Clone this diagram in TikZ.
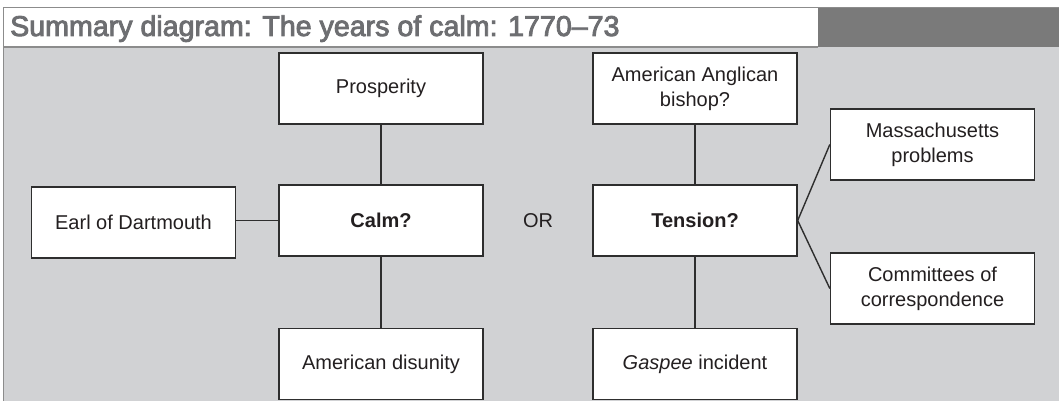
\documentclass[tikz,border=0pt]{standalone}
\usepackage{fontspec}
\setmainfont{Liberation Sans}
\newfontfamily\headfont[FakeBold=3]{Liberation Sans}
\definecolor{panel}{HTML}{D1D2D4}
\definecolor{bargrey}{HTML}{7A7A7A}
\definecolor{titletext}{HTML}{6D6E71}
\definecolor{rim}{HTML}{8C8C8C}
\definecolor{ink}{HTML}{231F20}
\definecolor{boxline}{HTML}{2E2E2E}
\begin{document}
\begin{tikzpicture}[x=1pt, y=-1pt,
  box/.style={draw=boxline, line width=1.4pt, fill=white,
    minimum width=204pt, minimum height=71pt, inner sep=0pt,
    align=center, text=ink, font=\fontsize{20}{25}\selectfont},
  link/.style={draw=boxline, line width=1.4pt},
  plain/.style={text=ink, font=\fontsize{20}{25}\selectfont}]
\useasboundingbox (0,0) rectangle (1059,401);

% background panel and title bar
\fill[panel] (3,47) rectangle (1059,401);
\fill[white] (3,7) rectangle (818,47);
\fill[bargrey] (818,7) rectangle (1059,47);
\draw[rim, line width=1.2pt] (3.6,401) -- (3.6,7.6) -- (1059,7.6);
\draw[rim, line width=1.2pt] (3,47) -- (818,47);
\node[anchor=base west, inner sep=0pt, text=titletext,
  font=\headfont\fontsize{28.6}{30}\selectfont] (title) at (10,36)
  {Summary diagram: The years of calm: 1770–73};

% left cluster
\node[box] (pros) at (381,88.5) {Prosperity};
\node[box] (calm) at (381,220.5) {\textbf{Calm?}};
\node[box] (disunity) at (381,364) {American disunity};
\node[box] (earl) at (133.5,222.5) {Earl of Dartmouth};

\node[plain] (or) at (538,221) {OR};

% right cluster
\node[box] (bishop) at (695,88.5) {American Anglican\\bishop?};
\node[box] (tension) at (695,220.5) {\textbf{Tension?}};
\node[box] (gaspee) at (695,364) {\textit{Gaspee} incident};
\node[box] (mass) at (932.5,144.5) {Massachusetts\\problems};
\node[box] (comm) at (932.5,288.5) {Committees of\\correspondence};

% connectors
\draw[link] (pros) -- (calm);
\draw[link] (calm) -- (disunity);
\draw[link] (earl.east |- calm) -- (calm);
\draw[link] (bishop) -- (tension);
\draw[link] (tension) -- (gaspee);
\draw[link] (tension.east) -- (mass.west);
\draw[link] (tension.east) -- (comm.west);
\end{tikzpicture}
\end{document}
